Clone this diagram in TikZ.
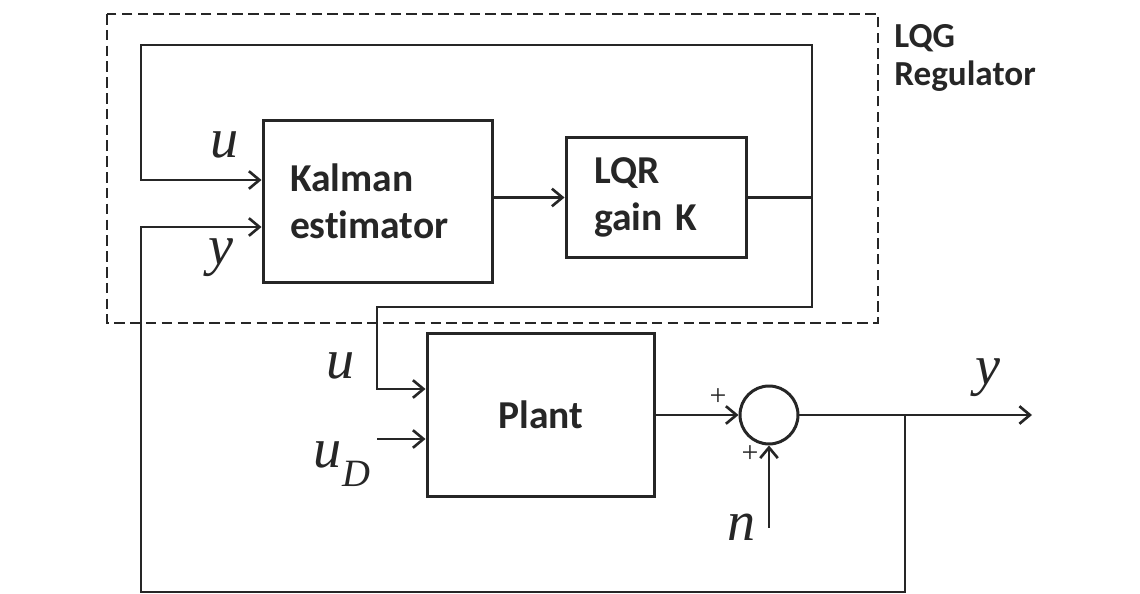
\documentclass[tikz,border=0pt]{standalone}
\usepackage{fontspec}
\setmainfont{Carlito}[Ligatures=NoCommon]
\newfontfamily\timesfont{Liberation Serif}
\usetikzlibrary{arrows.meta,positioning,calc}
\definecolor{ink}{RGB}{38,38,38}
\tikzset{
  block/.style={rectangle,draw=ink,line width=1.7pt,align=left,
                font=\fontsize{22.5}{27}\selectfont\bfseries,text=ink},
  wire/.style={draw=ink,line width=1.5pt},
  arrow/.style={wire,-{Straight Barb[length=6pt,width=10pt,line width=1.5pt]}},
  regbox/.style={draw=ink,line width=1.5pt,dash pattern=on 6pt off 3pt},
  sumnode/.style={circle,draw=ink,line width=1.7pt,minimum size=1.16cm,inner sep=0pt},
  sig/.style={font=\timesfont\itshape\fontsize{32}{32}\selectfont,text=ink,inner sep=0pt},
  sign/.style={font=\timesfont\fontsize{17}{17}\selectfont,text=ink,inner sep=0pt},
  title/.style={font=\fontsize{20}{21.5}\selectfont\bfseries,text=ink,align=left,inner sep=0pt},
}

\begin{document}
\begin{tikzpicture}[x=0.02cm,y=-0.02cm]
  \useasboundingbox (0,0) rectangle (1140,594);

  % LQG regulator
  \draw[regbox] (107,14) rectangle (878,323);
  \node[title,anchor=north west] (lqg) at (894,24) {LQG\\Regulator};

  \node[block,minimum height=3.26cm,text width=3.52cm,inner xsep=0.54cm]
    (kalman) at (378,201.5) {Kalman\\estimator};
  \node[block,minimum height=2.42cm,text width=2.5cm,inner xsep=0.56cm]
    (lqr) at (656.5,197.5) {LQR\\gain K};
  \node[block,align=center,minimum width=4.56cm,minimum height=3.28cm]
    (plant) at (541,415) {Plant};
  \node[sumnode] (sum) at (769,415) {};

  \coordinate (tr) at (812,45);
  \coordinate (tl) at (141,45);
  \coordinate (uk) at (141,180);
  \coordinate (yk) at (141,227);
  \coordinate (br) at (812,307);
  \coordinate (bl) at (377,307);
  \coordinate (up) at (377,389);
  \coordinate (ud) at (377,439);
  \coordinate (jo) at (905,415);
  \coordinate (out) at (1032,415);
  \coordinate (fbr) at (905,592);
  \coordinate (fbl) at (141,592);
  \coordinate (nin) at (769,528);

  \draw[arrow] (kalman.east |- lqr) -- (lqr.west);
  \draw[wire] (lqr.east) -- (lqr.east -| tr);
  \draw[arrow] (lqr.east -| tr) -- (tr) -- (tl) -- (uk) -- (uk -| kalman.west);
  \draw[arrow] (lqr.east -| tr) -- (br) -- (bl) -- (up) -- (up -| plant.west);
  \draw[arrow] (ud) -- (ud -| plant.west);
  \draw[arrow] (plant.east |- sum) -- (sum.west);
  \draw[arrow] (sum.east) -- (out);
  \draw[arrow] (jo) -- (fbr) -- (fbl) -- (yk) -- (yk -| kalman.west);
  \draw[arrow] (nin) -- (sum.south);

  % signal labels
  \node[sig] (ukl) at (225,145) {u};
  \node[sig] (ykl) at (221,258) {y};
  \node[sig] (upl) at (341,366) {u};
  \node[sig] (udl) at (342,464) {u\raisebox{-0.35em}{\fontsize{22}{22}\selectfont D}};
  \node[sig] (outl) at (988,378) {y};
  \node[sig] (nl) at (742,527) {n};
  \node[sign] (p1) at (718,397) {+};
  \node[sign] (p2) at (750,454) {+};
\end{tikzpicture}
\end{document}
